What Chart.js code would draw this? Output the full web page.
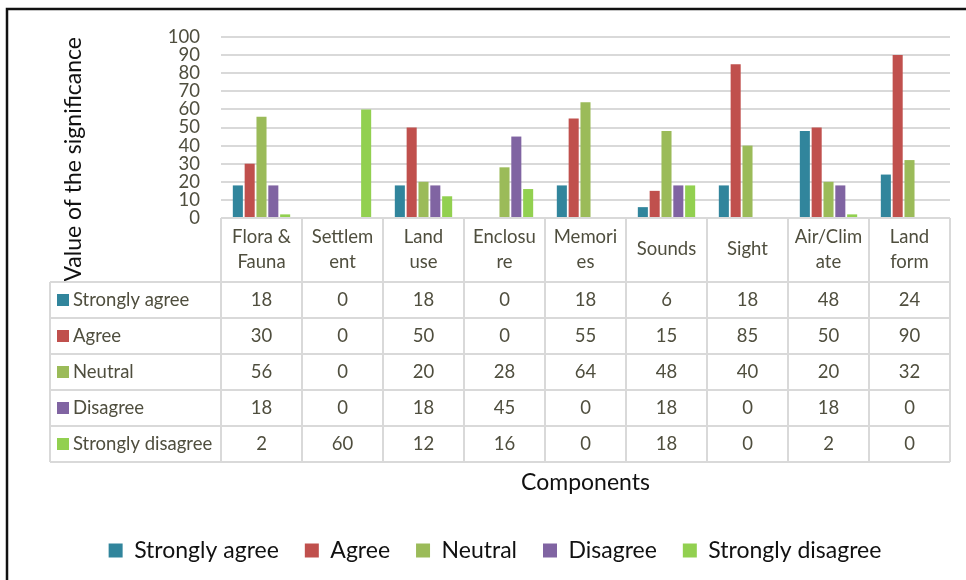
<!DOCTYPE html>
<html>
<head>
<meta charset="utf-8">
<script src="https://cdn.jsdelivr.net/npm/chart.js@4.4.0/dist/chart.umd.min.js"></script>
<style>
  html, body { margin: 0; padding: 0; background: #fff; }
</style>
</head>
<body>
<canvas id="sigChart" width="966" height="580"></canvas>
<script>
// data (values also printed in its data table)
var categories = ['Flora & Fauna', 'Settlement', 'Land use', 'Enclosure', 'Memories', 'Sounds', 'Sight', 'Air/Climate', 'Land form'];
var tickLabels = [['Flora &', 'Fauna'], ['Settlem', 'ent'], ['Land', 'use'], ['Enclosu', 're'], ['Memori', 'es'], 'Sounds', 'Sight', ['Air/Clim', 'ate'], ['Land', 'form']];
var seriesNames = ['Strongly agree', 'Agree', 'Neutral', 'Disagree', 'Strongly disagree'];
var stronglyAgree = [18, 0, 18, 0, 18, 6, 18, 48, 24];
var agree = [30, 0, 50, 0, 55, 15, 85, 50, 90];
var neutral = [56, 0, 20, 28, 64, 48, 40, 20, 32];
var disagree = [18, 0, 18, 45, 0, 18, 0, 18, 0];
var stronglyDisagree = [2, 60, 12, 16, 0, 18, 0, 2, 0];
var seriesColors = ['#31859C', '#C0504D', '#9BBB59', '#8064A2', '#92D050'];
var yMin = 0, yMax = 100, yStep = 10;

var allSeries = [stronglyAgree, agree, neutral, disagree, stronglyDisagree];
var textColor = '#4f4e3e';
var gridColor = '#d9d9d9';
var fontFam = 'Lato, "Open Sans", sans-serif';

// white page + the black frame that shows on top and left
var framePlugin = {
    id: 'frame',
    beforeDraw: function (chart) {
        var ctx = chart.ctx;
        ctx.save();
        ctx.fillStyle = '#fff';
        ctx.fillRect(0, 0, chart.width, chart.height);
        ctx.strokeStyle = '#111';
        ctx.lineWidth = 2.5;
        ctx.beginPath();
        ctx.moveTo(7, chart.height);
        ctx.lineTo(7, 9);
        ctx.lineTo(chart.width, 9);
        ctx.stroke();
        ctx.restore();
    }
};

// excel style data table under the plot
var tablePlugin = {
    id: 'dataTable',
    afterDraw: function (chart) {
        var ctx = chart.ctx;
        var x = chart.scales.x;
        var n = categories.length;
        var cw = (x.right - x.left) / n;
        var top = x.top;
        var headH = 64, rowH = 36, left = 50;
        var rowsTop = top + headH;
        var bottom = rowsTop + rowH * seriesNames.length;

        ctx.save();
        ctx.strokeStyle = gridColor;
        ctx.lineWidth = 2;
        ctx.beginPath();
        ctx.moveTo(x.left, top);
        ctx.lineTo(x.right, top);
        for (var r = 0; r <= seriesNames.length; r++) {
            ctx.moveTo(left, rowsTop + r * rowH);
            ctx.lineTo(x.right, rowsTop + r * rowH);
        }
        for (var i = 0; i <= n; i++) {
            var bx = x.getPixelForValue(0) - cw / 2 + i * cw;
            ctx.moveTo(bx, top);
            ctx.lineTo(bx, bottom);
        }
        ctx.moveTo(left, rowsTop);
        ctx.lineTo(left, bottom);
        ctx.stroke();

        ctx.font = '18.5px ' + fontFam;
        ctx.textBaseline = 'middle';
        for (var s = 0; s < seriesNames.length; s++) {
            var cy = rowsTop + s * rowH + rowH / 2;
            ctx.fillStyle = seriesColors[s];
            ctx.fillRect(left + 7, cy - 6, 12, 12);
            ctx.fillStyle = textColor;
            ctx.textAlign = 'left';
            ctx.fillText(seriesNames[s], left + 23, cy);
            ctx.textAlign = 'center';
            for (var c = 0; c < n; c++) {
                ctx.fillText(String(allSeries[s][c]), x.getPixelForValue(c), cy);
            }
        }
        ctx.restore();
    }
};

var datasets = seriesNames.map(function (name, i) {
    return {
        label: name,
        data: allSeries[i],
        backgroundColor: seriesColors[i],
        borderWidth: 0,
        barPercentage: 0.85,
        categoryPercentage: 0.73
    };
});

var ctx = document.getElementById('sigChart');
var myChart = new Chart(ctx, {
    type: 'bar',
    data: {
        labels: tickLabels,
        datasets: datasets
    },
    plugins: [framePlugin, tablePlugin],
    options: {
        responsive: false,
        animation: false,
        layout: {
            padding: { left: 40, right: 16, top: 37, bottom: 8 }
        },
        plugins: {
            legend: {
                position: 'bottom',
                labels: {
                    font: { family: fontFam, size: 23 },
                    color: '#111',
                    boxWidth: 14,
                    boxHeight: 14,
                    padding: 26
                }
            },
            tooltip: { enabled: false }
        },
        scales: {
            x: {
                grid: { display: false },
                border: { display: false },
                ticks: {
                    font: { family: fontFam, size: 18.5, lineHeight: 1.35 },
                    color: textColor,
                    padding: 11,
                    maxRotation: 0,
                    autoSkip: false,
                    crossAlign: 'center'
                },
                title: {
                    display: true,
                    text: 'Components',
                    font: { family: fontFam, size: 23 },
                    color: '#111',
                    padding: { top: 0, bottom: 17 }
                },
                afterFit: function (scale) {
                    scale.height = 295;
                }
            },
            y: {
                min: yMin,
                max: yMax,
                grid: { color: gridColor, lineWidth: 2, drawTicks: false },
                border: { display: false },
                ticks: {
                    stepSize: yStep,
                    autoSkip: false,
                    font: { family: fontFam, size: 18.5, lineHeight: 1 },
                    color: textColor,
                    padding: 21
                },
                title: {
                    display: true,
                    text: 'Value of the significance',
                    align: 'end',
                    font: { family: fontFam, size: 23 },
                    color: '#111',
                    padding: { top: 20, bottom: 0 }
                },
                afterFit: function (scale) {
                    scale.width = 181;
                }
            }
        }
    }
});
</script>
</body>
</html>
